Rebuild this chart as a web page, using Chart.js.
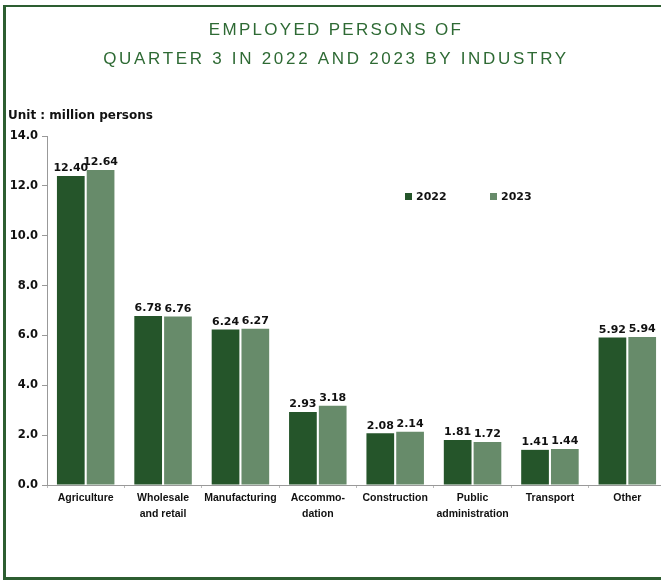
<!DOCTYPE html>
<html>
<head>
<meta charset="utf-8">
<script src="https://cdn.jsdelivr.net/npm/chart.js@4.4.1/dist/chart.umd.min.js"></script>
<style>
    html, body { margin: 0; padding: 0; background: #fff; overflow: hidden; }
    #frame {
        position: absolute; left: 3px; top: 5px; width: 700px; height: 570px;
        border-left: 3px solid #2d5e31; border-top: 2px solid #2d5e31; border-bottom: 3px solid #2d5e31;
    }
    #wrap { position: absolute; left: 0; top: 0; width: 668px; height: 581px; }
</style>
</head>
<body>
<div id="frame"></div>
<div id="wrap"><canvas id="employedChart"></canvas></div>
<script>
const industries = ['Agriculture', ['Wholesale', 'and retail'], 'Manufacturing', ['Accommo-', 'dation'],
    'Construction', ['Public', 'administration'], 'Transport', 'Other'];
const values2022 = [12.40, 6.78, 6.24, 2.93, 2.08, 1.81, 1.41, 5.92];
const values2023 = [12.64, 6.76, 6.27, 3.18, 2.14, 1.72, 1.44, 5.94];
const titleLines = ['EMPLOYED PERSONS OF', 'QUARTER 3 IN 2022 AND 2023 BY INDUSTRY'];
const unitLabel = 'Unit : million persons';

const DARK = '#25552a';
const LIGHT = '#678b6a';

// title, unit, legend and value labels
const decorations = {
    id: 'decorations',
    afterDatasetsDraw(chart) {
        const ctx = chart.ctx;
        ctx.save();

        // title
        ctx.fillStyle = '#2e6a34';
        ctx.font = '17px "Liberation Sans", Arial, sans-serif';
        ctx.textAlign = 'center';
        ctx.textBaseline = 'middle';
        ctx.letterSpacing = '2.3px';
        ctx.fillText(titleLines[0], 336, 30);
        ctx.letterSpacing = '2.7px';
        ctx.fillText(titleLines[1], 336, 59);
        ctx.letterSpacing = '0px';

        // unit
        ctx.fillStyle = '#111';
        ctx.font = 'bold 12px "DejaVu Sans", sans-serif';
        ctx.textAlign = 'left';
        ctx.fillText(unitLabel, 8, 116);

        // legend
        ctx.font = 'bold 11px "DejaVu Sans", sans-serif';
        const legendX = [405, 490];
        chart.data.datasets.forEach((ds, i) => {
            ctx.fillStyle = ds.backgroundColor;
            ctx.fillRect(legendX[i], 193, 7, 7);
            ctx.fillStyle = '#111';
            ctx.fillText(ds.label, legendX[i] + 11, 197);
        });

        // value labels
        ctx.font = 'bold 11px "DejaVu Sans", sans-serif';
        ctx.textAlign = 'center';
        ctx.textBaseline = 'bottom';
        chart.data.datasets.forEach((ds, i) => {
            chart.getDatasetMeta(i).data.forEach((bar, j) => {
                ctx.fillText(ds.data[j].toFixed(2), bar.x, bar.y - 2);
            });
        });
        ctx.restore();
    }
};

const ctx = document.getElementById('employedChart').getContext('2d');
new Chart(ctx, {
    type: 'bar',
    data: {
        labels: industries,
        datasets: [{
            label: '2022',
            data: values2022,
            backgroundColor: DARK,
            categoryPercentage: 0.77,
            barPercentage: 0.93
        }, {
            label: '2023',
            data: values2023,
            backgroundColor: LIGHT,
            categoryPercentage: 0.77,
            barPercentage: 0.93
        }]
    },
    options: {
        responsive: true,
        maintainAspectRatio: false,
        animation: false,
        layout: { padding: { top: 136, right: 2, left: 0, bottom: 0 } },
        plugins: {
            legend: { display: false },
            title: { display: false },
            tooltip: { enabled: false }
        },
        scales: {
            y: {
                min: 0,
                max: 14,
                afterFit(scale) { scale.width = 47; },
                ticks: {
                    stepSize: 2,
                    color: '#111',
                    padding: 4,
                    font: { family: '"DejaVu Sans", sans-serif', size: 11.5, weight: 'bold' },
                    callback: v => v.toFixed(1)
                },
                grid: { drawOnChartArea: false, tickLength: 5, color: '#999' },
                border: { color: '#999' }
            },
            x: {
                afterFit(scale) { scale.height = 96; },
                ticks: {
                    color: '#111',
                    padding: 2,
                    maxRotation: 0,
                    autoSkip: false,
                    font: { family: '"Liberation Sans", Arial, sans-serif', size: 10.5, weight: 'bold', lineHeight: 1.5 }
                },
                grid: { drawOnChartArea: false, tickLength: 3, color: '#bbb' },
                border: { color: '#999' }
            }
        }
    },
    plugins: [decorations]
});
</script>
</body>
</html>
